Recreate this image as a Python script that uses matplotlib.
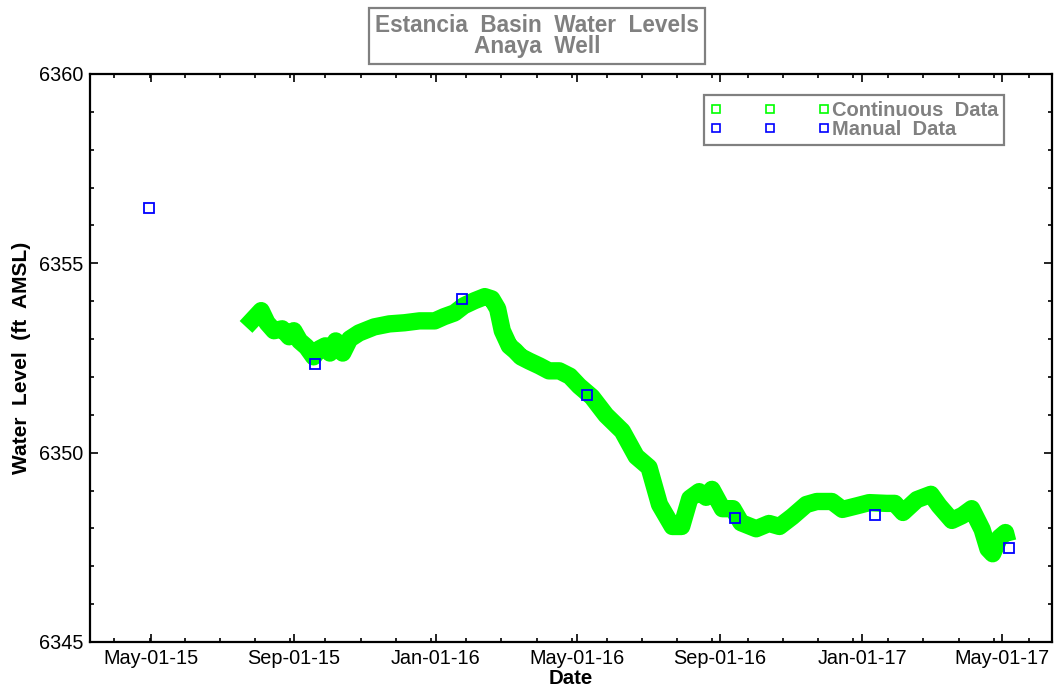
import numpy as np
import pandas as pd
import matplotlib
matplotlib.use('Agg')
import matplotlib.pyplot as plt
import matplotlib.dates as mdates
from matplotlib.lines import Line2D
from matplotlib.ticker import MultipleLocator, FixedLocator

plt.rcParams['font.family'] = ['Liberation Sans', 'DejaVu Sans']
plt.rcParams['font.size'] = 14

# continuous logger record
cont_dates = ['2015-07-22', '2015-08-04', '2015-08-09', '2015-08-15', '2015-08-22',
              '2015-08-28', '2015-09-01', '2015-09-06', '2015-09-12', '2015-09-18',
              '2015-09-23', '2015-09-28', '2015-10-02', '2015-10-07', '2015-10-13',
              '2015-10-19', '2015-10-27', '2015-11-09', '2015-11-22', '2015-12-05',
              '2015-12-18', '2015-12-31', '2016-01-08', '2016-01-17', '2016-01-25',
              '2016-02-03', '2016-02-12', '2016-02-18', '2016-02-23', '2016-02-27',
              '2016-03-04', '2016-03-09', '2016-03-14', '2016-03-21', '2016-03-30',
              '2016-04-07', '2016-04-16', '2016-04-25', '2016-05-03', '2016-05-14',
              '2016-05-26', '2016-06-09', '2016-06-21', '2016-07-02', '2016-07-11',
              '2016-07-22', '2016-07-30', '2016-08-06', '2016-08-14', '2016-08-20',
              '2016-08-25', '2016-09-03', '2016-09-12', '2016-09-19', '2016-10-02',
              '2016-10-13', '2016-10-22', '2016-11-02', '2016-11-14', '2016-11-23',
              '2016-12-06', '2016-12-15', '2016-12-28', '2017-01-07', '2017-01-22',
              '2017-01-29', '2017-02-05', '2017-02-17', '2017-03-01', '2017-03-08',
              '2017-03-19', '2017-03-28', '2017-04-05', '2017-04-14', '2017-04-19',
              '2017-04-23', '2017-04-29', '2017-05-04', '2017-05-06']
cont_level = [6353.32, 6353.75, 6353.43, 6353.22, 6353.27,
              6353.06, 6353.22, 6352.95, 6352.79, 6352.53,
              6352.74, 6352.82, 6352.63, 6352.95, 6352.63,
              6353.00, 6353.16, 6353.32, 6353.40, 6353.43,
              6353.48, 6353.48, 6353.59, 6353.69, 6353.88,
              6354.01, 6354.12, 6354.06, 6353.80, 6353.22,
              6352.82, 6352.69, 6352.53, 6352.42, 6352.29,
              6352.16, 6352.16, 6352.02, 6351.76, 6351.47,
              6350.99, 6350.57, 6349.90, 6349.61, 6348.63,
              6348.05, 6348.05, 6348.79, 6348.97, 6348.82,
              6349.03, 6348.52, 6348.52, 6348.15, 6347.99,
              6348.13, 6348.05, 6348.31, 6348.63, 6348.71,
              6348.71, 6348.50, 6348.60, 6348.68, 6348.66,
              6348.66, 6348.42, 6348.76, 6348.90, 6348.60,
              6348.21, 6348.34, 6348.52, 6347.97, 6347.46,
              6347.33, 6347.76, 6347.89, 6347.65]

# manual tape measurements
man_dates = ['2015-04-30', '2015-09-19', '2016-01-23', '2016-05-10',
             '2016-09-14', '2017-01-12', '2017-05-07']
man_level = [6356.45, 6352.33, 6354.06, 6351.52, 6348.28, 6348.35, 6347.48]

tick_dates = ['2015-05-01', '2015-09-01', '2016-01-01', '2016-05-01',
              '2016-09-01', '2017-01-01', '2017-05-01']

cd = pd.to_datetime(cont_dates)
md = pd.to_datetime(man_dates)

fig = plt.figure(figsize=(10.57, 6.90), dpi=100)
ax = fig.add_axes([0.0851, 0.0696, 0.9102, 0.8232])

ax.plot(cd, cont_level, color='#00ff00', lw=12.5, solid_joinstyle='round',
        solid_capstyle='butt', zorder=2)
ax.plot(md, man_level, ls='none', marker='s', ms=6.5, mfc='none', mec='#0000ff',
        mew=1.3, zorder=3)

xmin = mdates.date2num(pd.Timestamp('2015-03-10'))
xmax = mdates.date2num(pd.Timestamp('2017-06-13'))
ax.set_xlim(xmin, xmax)
ax.set_ylim(6345, 6360)

ax.xaxis.set_major_locator(FixedLocator(mdates.date2num(pd.to_datetime(tick_dates))))
ax.xaxis.set_major_formatter(mdates.DateFormatter('%b-%d-%y'))
ax.xaxis.set_minor_locator(FixedLocator(np.arange(xmin + 21, xmax, 30.2)))
ax.yaxis.set_major_locator(MultipleLocator(5))
ax.yaxis.set_minor_locator(MultipleLocator(1))

ax.tick_params(which='both', direction='in', top=True, right=True, width=1.2,
               labelsize=14.3, colors='black')
ax.tick_params(which='major', length=6, pad=5)
ax.tick_params(which='minor', length=3)
for s in ax.spines.values():
    s.set_linewidth(1.6)

ax.set_xlabel('Date', fontweight='bold', fontsize=14.7)
ax.xaxis.set_label_coords(0.5, -0.064)
ax.xaxis.label.set_va('center')
ax.set_ylabel('Water  Level  (ft  AMSL)', fontweight='bold', fontsize=15)
ax.yaxis.set_label_coords(-0.071, 0.5)
ax.yaxis.label.set_va('center')

fig.text(0.508, 0.948, 'Estancia  Basin  Water  Levels\nAnaya  Well',
         ha='center', va='center', fontsize=16.3, fontweight='bold', color='#808080',
         linespacing=0.92,
         bbox=dict(boxstyle='square,pad=0.25', fc='white', ec='#808080', lw=1.6))

handles = [Line2D([], [], ls='none', marker='s', ms=5.5, mfc='none', mec='#00ff00', mew=1.2),
           Line2D([], [], ls='none', marker='s', ms=5.5, mfc='none', mec='#0000ff', mew=1.2)]
leg = ax.legend(handles, ['Continuous  Data', 'Manual  Data'], loc='upper right',
                bbox_to_anchor=(0.950, 0.963), borderaxespad=0, numpoints=3,
                handlelength=6.0, handletextpad=0.05, borderpad=0.3, labelspacing=0.0,
                fancybox=False, framealpha=1, edgecolor='#808080',
                prop={'weight': 'bold', 'size': 14.5})
leg.get_frame().set_linewidth(1.6)
for t in leg.get_texts():
    t.set_color('#808080')

fig.savefig('out.png', dpi=100)
